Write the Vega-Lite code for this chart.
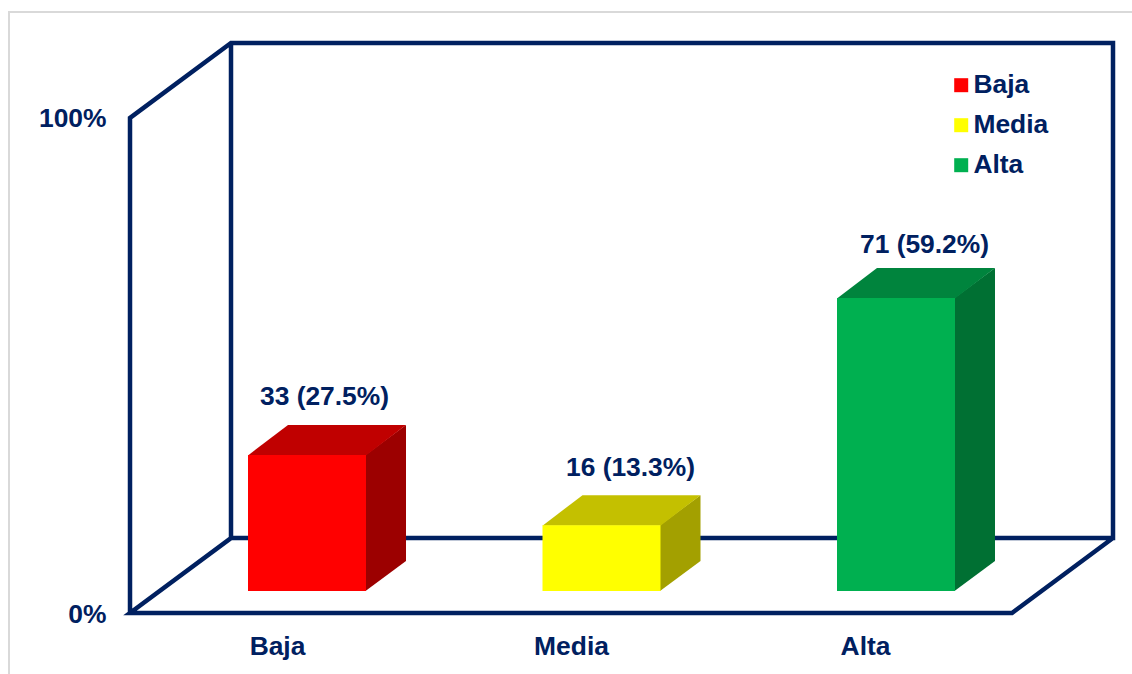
{"$schema":"https://vega.github.io/schema/vega-lite/v6.json","width":983,"height":570,"autosize":{"type":"none"},"padding":{"left":130,"top":43,"right":19,"bottom":61},"background":"white","config":{"view":{"stroke":null},"font":"Liberation Sans"},"datasets":{"bars":[{"categoria":"Baja","n":33,"pct":27.5},{"categoria":"Media","n":16,"pct":13.3},{"categoria":"Alta","n":71,"pct":59.2}],"frame":[{"o":0,"w":0,"h":0,"d":0},{"o":1,"w":0,"h":100,"d":0},{"o":2,"w":0,"h":100,"d":1},{"o":3,"w":1,"h":100,"d":1},{"o":4,"w":1,"h":0,"d":1},{"o":5,"w":0,"h":0,"d":1},{"o":6,"w":0,"h":100,"d":1},{"o":7,"w":0,"h":0,"d":1},{"o":8,"w":0,"h":0,"d":0},{"o":9,"w":1,"h":0,"d":0},{"o":10,"w":1,"h":0,"d":1}],"border":[{"o":0,"bx":-121,"by":-12.4},{"o":1,"bx":-121,"by":121.4},{"o":2,"bx":1002,"by":121.4}]},"layer":[{"data":{"name":"border"},"mark":{"type":"line","stroke":"#d9d9d9","strokeWidth":2,"clip":false},"encoding":{"x":{"field":"bx","type":"quantitative","scale":{"domain":[0,983],"nice":false,"zero":false},"axis":{"values":[147,441,735],"labelExpr":"datum.value<300?'Baja':datum.value<600?'Media':'Alta'","domain":false,"ticks":false,"grid":false,"title":null,"labelFont":"Liberation Sans","labelFontSize":26.4,"labelFontWeight":"bold","labelColor":"#002060","labelPadding":20}},"y":{"field":"by","type":"quantitative","scale":{"domain":[0,115.15],"nice":false,"zero":false},"axis":{"values":[0,100],"labelExpr":"datum.value+'%'","domain":false,"ticks":false,"grid":false,"title":null,"labelFont":"Liberation Sans","labelFontSize":26.4,"labelFontWeight":"bold","labelColor":"#002060","labelPadding":24,"labelOffset":1}},"order":{"field":"o","type":"quantitative"}}},{"data":{"name":"frame"},"transform":[{"calculate":"datum.w*882+datum.d*101","as":"fx"},{"calculate":"datum.h+datum.d*15.15","as":"fy"}],"mark":{"type":"line","stroke":"#002060","strokeWidth":4.5,"strokeJoin":"miter","clip":false},"encoding":{"x":{"field":"fx","type":"quantitative"},"y":{"field":"fy","type":"quantitative"},"order":{"field":"o","type":"quantitative"}}},{"data":{"name":"bars"},"transform":[{"calculate":"118+294.5*indexof(['Baja','Media','Alta'],datum.categoria)","as":"x0"},{"calculate":"[0,1]","as":"t"},{"flatten":["t"]},{"calculate":"datum.x0+117.5+40.5*datum.t","as":"sx"},{"calculate":"4.44+6.06*datum.t","as":"sy0"},{"calculate":"4.44+datum.pct+6.06*datum.t","as":"sy1"}],"mark":{"type":"area","orient":"vertical","clip":false},"encoding":{"x":{"field":"sx","type":"quantitative"},"y":{"field":"sy0","type":"quantitative","stack":null},"y2":{"field":"sy1"},"color":{"field":"categoria","type":"nominal","legend":null,"scale":{"domain":["Baja","Media","Alta"],"range":["#9c0000","#a3a000","#007033"]}}}},{"data":{"name":"bars"},"transform":[{"calculate":"118+294.5*indexof(['Baja','Media','Alta'],datum.categoria)","as":"x0"},{"calculate":"[0,1]","as":"t"},{"flatten":["t"]},{"calculate":"datum.x0+40*datum.t","as":"tx0"},{"calculate":"datum.x0+118+40*datum.t","as":"tx1"},{"calculate":"4.44+datum.pct-0.1+6.16*datum.t","as":"ty"}],"mark":{"type":"area","orient":"horizontal","clip":false},"encoding":{"y":{"field":"ty","type":"quantitative"},"x":{"field":"tx0","type":"quantitative","stack":null},"x2":{"field":"tx1"},"color":{"field":"categoria","type":"nominal","legend":null,"scale":{"domain":["Baja","Media","Alta"],"range":["#c00000","#c4c000","#00843d"]}}}},{"data":{"name":"bars"},"transform":[{"calculate":"118+294.5*indexof(['Baja','Media','Alta'],datum.categoria)","as":"x0"},{"calculate":"datum.x0+118","as":"x1"},{"calculate":"4.44","as":"b0"},{"calculate":"4.44+datum.pct","as":"b1"}],"mark":{"type":"rect","clip":false},"encoding":{"x":{"field":"x0","type":"quantitative"},"x2":{"field":"x1"},"y":{"field":"b0","type":"quantitative"},"y2":{"field":"b1"},"color":{"field":"categoria","type":"nominal","scale":{"domain":["Baja","Media","Alta"],"range":["#ff0000","#ffff00","#00b050"]},"legend":{"title":null,"orient":"none","legendX":818,"legendY":29,"symbolType":"square","symbolSize":196,"symbolStrokeWidth":0,"labelFont":"Liberation Sans","labelFontSize":26.4,"labelFontWeight":"bold","labelColor":"#002060","rowPadding":13,"labelOffset":-1,"padding":0}}}},{"data":{"name":"bars"},"transform":[{"calculate":"indexof(['Baja','Media','Alta'],datum.categoria)","as":"i"},{"calculate":"[194.5,500.5,794.5][datum.i]","as":"lx"},{"calculate":"4.44+datum.pct+6.06+[5.66,5.45,4.65][datum.i]","as":"ly"},{"calculate":"datum.n+' ('+datum.pct+'%)'","as":"etiqueta"}],"mark":{"type":"text","font":"Liberation Sans","fontSize":26.4,"fontWeight":"bold","color":"#002060","baseline":"middle","align":"center","clip":false},"encoding":{"x":{"field":"lx","type":"quantitative"},"y":{"field":"ly","type":"quantitative"},"text":{"field":"etiqueta","type":"nominal"}}}],"resolve":{"scale":{"color":"independent"}}}
